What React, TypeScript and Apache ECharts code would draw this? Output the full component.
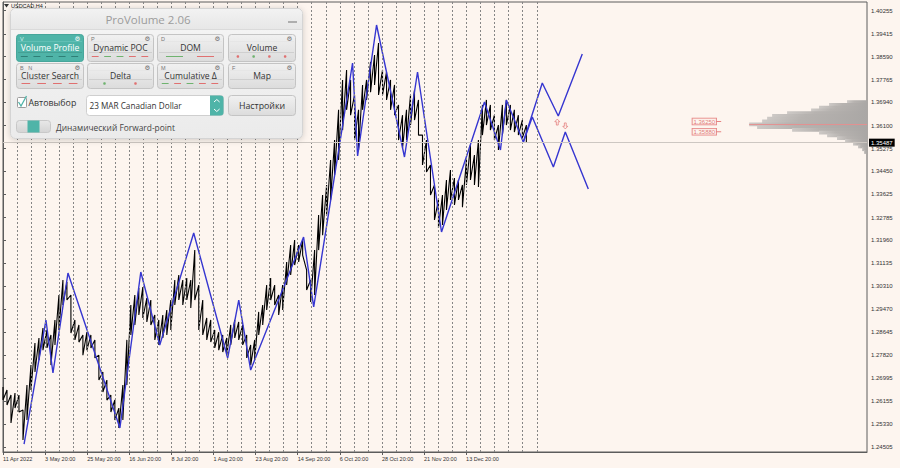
import React, { useEffect, useRef } from "react";
import * as echarts from "echarts";

// ---------- DATA ----------
const xLabelTexts = [
  "11 Apr 2022", "3 May 20:00", "25 May 20:00", "16 Jun 20:00", "8 Jul 20:00", "1 Aug 20:00",
  "23 Aug 20:00", "14 Sep 20:00", "6 Oct 20:00", "28 Oct 20:00", "21 Nov 20:00", "13 Dec 20:00",
];
const xLabelWeeks = [0, 3, 6, 9, 12, 15, 18, 21, 24, 27, 30, 33];
const yTickPrices = [
  1.40255, 1.39415, 1.3859, 1.37765, 1.3694, 1.361, 1.35275, 1.3445, 1.33625, 1.32785,
  1.3196, 1.31135, 1.3031, 1.2947, 1.28645, 1.2782, 1.26995, 1.26155, 1.2533, 1.24505,
];
const separatorWeeks = [
  1, 2, 3, 4, 5, 6, 7, 8, 9, 10, 11, 12, 13, 14, 15, 16, 17, 18, 19, 20, 21, 22, 23, 24, 25,
  26, 27, 28, 29, 30, 31, 32, 33, 34, 35, 36, 37, 38.1,
];
const barStepWeeks = 0.2847; // time between sampled price bars (in weeks)
const priceHigh = [
  1.2667, 1.2656, 1.2638, 1.2645, 1.2638, 1.2584, 1.2674, 1.2746, 1.2826, 1.2844,
  1.288, 1.2873, 1.2855, 1.2909, 1.2999, 1.3053, 1.3046, 1.2999, 1.2909, 1.2891,
  1.2855, 1.2865, 1.2855, 1.2837, 1.2782, 1.2721, 1.2692, 1.2638, 1.262, 1.2591,
  1.2674, 1.2837, 1.2963, 1.2999, 1.3024, 1.3028, 1.2988, 1.2981, 1.2927, 1.2909,
  1.2927, 1.2945, 1.2981, 1.3053, 1.3071, 1.3053, 1.306, 1.3053, 1.3161, 1.3035,
  1.2981, 1.2916, 1.2909, 1.2873, 1.2865, 1.2855, 1.2844, 1.2891, 1.2909, 1.2902,
  1.2891, 1.2855, 1.2819, 1.2837, 1.2938, 1.2963, 1.3035, 1.306, 1.3035, 1.2999,
  1.3035, 1.3118, 1.3179, 1.3197, 1.3179, 1.3197, 1.3089, 1.3053, 1.3161, 1.3288,
  1.336, 1.3396, 1.3486, 1.3558, 1.3667, 1.3775, 1.3811, 1.3775, 1.3721, 1.3667,
  1.3757, 1.3775, 1.384, 1.3865, 1.3908, 1.3811, 1.3804, 1.3775, 1.3757, 1.3685,
  1.3648, 1.3667, 1.3721, 1.3739, 1.3703, 1.3576, 1.3558, 1.3468, 1.3396, 1.3342,
  1.336, 1.3414, 1.345, 1.3421, 1.3414, 1.3396, 1.3486, 1.354, 1.3504, 1.3558,
  1.3685, 1.3703, 1.3685, 1.3648, 1.3612, 1.3685, 1.3703, 1.3685, 1.3667, 1.3648,
  1.363, 1.3612,
];
const priceLow = [
  1.262, 1.2602, 1.2537, 1.2591, 1.2577, 1.2476, 1.2548, 1.2656, 1.2721, 1.2764,
  1.28, 1.2808, 1.2746, 1.2819, 1.2873, 1.2963, 1.2981, 1.2862, 1.2837, 1.2829,
  1.2782, 1.28, 1.2808, 1.2772, 1.2692, 1.2649, 1.262, 1.2577, 1.2548, 1.2519,
  1.2548, 1.2674, 1.2855, 1.2891, 1.2927, 1.2916, 1.2902, 1.2891, 1.2837, 1.2819,
  1.2844, 1.2855, 1.2873, 1.2963, 1.2981, 1.2963, 1.2981, 1.2952, 1.2981, 1.2873,
  1.2855, 1.2837, 1.2829, 1.2808, 1.28, 1.2793, 1.2782, 1.2819, 1.2844, 1.2837,
  1.2819, 1.2772, 1.2746, 1.2764, 1.2855, 1.2891, 1.2945, 1.2981, 1.2963, 1.2927,
  1.2945, 1.3035, 1.3071, 1.3107, 1.3118, 1.3143, 1.3017, 1.2974, 1.2999, 1.3161,
  1.3215, 1.3288, 1.3342, 1.3432, 1.3486, 1.3594, 1.3667, 1.3648, 1.3558, 1.3522,
  1.3667, 1.3703, 1.3731, 1.3757, 1.3721, 1.3721, 1.3703, 1.3667, 1.3648, 1.3558,
  1.3529, 1.3558, 1.3612, 1.363, 1.3576, 1.3468, 1.3443, 1.336, 1.327, 1.3241,
  1.3252, 1.3306, 1.3342, 1.3324, 1.3342, 1.3316, 1.3396, 1.3414, 1.3396, 1.3389,
  1.3576, 1.3612, 1.3594, 1.3558, 1.3522, 1.3576, 1.3612, 1.3594, 1.3587, 1.3576,
  1.3565, 1.3551,
];
const zigzagWeeks = [
  1.5, 3.06, 3.56, 4.63, 8.33, 9.82, 11.17, 13.59, 16.01, 16.8, 17.65, 21.42, 22.14, 24.91,
  25.27, 26.62, 28.61, 29.54, 31.25, 34.31, 35.45, 35.87, 37.08,
];
const zigzagPrices = [
  1.24613, 1.29087, 1.27175, 1.30783, 1.25191, 1.30819, 1.28185, 1.32227, 1.27716, 1.29809,
  1.27283, 1.32082, 1.29557, 1.38361, 1.35005, 1.39732, 1.34969, 1.38036, 1.32263, 1.36954,
  1.35222, 1.37026, 1.3551,
];
const projUpWeeks = [37.08, 38.43, 39.57, 41.28];
const projUpPrices = [1.3551, 1.37639, 1.36448, 1.38686];
const projDownWeeks = [37.08, 37.72, 39.22, 40.07, 41.71];
const projDownPrices = [1.3551, 1.36412, 1.34608, 1.35871, 1.33814];
const signalWeeks = [39.5, 40.07];
const signalPrices = [1.3623, 1.3609];
const levelPrices = [1.3625, 1.3588];
const levelWeek = 51.0;
const bidPrice = 1.35487;
const profilePrices = [
  1.3695, 1.3685, 1.3675, 1.3665, 1.3655, 1.3645, 1.3635, 1.3625, 1.3615, 1.3605,
  1.3595, 1.3585, 1.3575, 1.3565, 1.3555, 1.3545, 1.3535, 1.3525, 1.3515,
];
const profileVolumes = [
  231, 439, 555, 647, 925, 1098, 1156, 1214, 1364, 1272, 867, 555, 462, 347, 254, 162, 104, 58, 35,
];
const profileBin = 0.001;
const pocPrice = 1.3614;

// ---------- STYLE ----------
const BG = "#fdf5ef";
const AXIS_FONT = '"Liberation Sans", Arial, sans-serif';
const UI_FONT = '"Open Sans", "Noto Sans", sans-serif';
const TEAL = "#4fb4a8";
const BLUE = "#3636d0";
const RED = "#e06767";

function grad(a: string, b: string) {
  return new echarts.graphic.LinearGradient(0, 0, 0, 1, [
    { offset: 0, color: a },
    { offset: 1, color: b },
  ]);
}

type Btn = {
  x: number; y: number; w: number; h: number; label: string; key: string; active?: boolean;
  ind: { kind: "dash" | "dot"; colors: string[] };
};

function buildButton(b: Btn): any[] {
  const els: any[] = [];
  els.push({
    type: "rect", z: 100,
    shape: { x: b.x + 0.5, y: b.y + 0.5, width: b.w, height: b.h, r: 3 },
    style: {
      fill: b.active ? TEAL : grad("#f1f1f1", "#dcdcdc"),
      stroke: b.active ? "#47a69b" : "#c4c4c4", lineWidth: 1,
    },
  });
  els.push({
    type: "line", z: 101,
    shape: { x1: b.x + 2, y1: b.y + 7.5, x2: b.x + b.w - 1, y2: b.y + 7.5 },
    style: { stroke: b.active ? "#62c0b5" : "#e6e6e6", lineWidth: 1 },
  });
  els.push({
    type: "line", z: 101,
    shape: { x1: b.x + 2, y1: b.y + b.h - 8.5, x2: b.x + b.w - 1, y2: b.y + b.h - 8.5 },
    style: { stroke: b.active ? "#45a195" : "#cfcfcf", lineWidth: 1 },
  });
  if (b.key) {
    els.push({
      type: "text", z: 102, x: b.x + 4, y: b.y + 4.5,
      style: { text: b.key, fill: b.active ? "#d9f0ed" : "#777", fontSize: 5.5, fontFamily: AXIS_FONT, verticalAlign: "middle" },
    });
  }
  els.push({
    type: "text", z: 102, x: b.x + b.w - 5.5, y: b.y + 4.5,
    style: { text: "⚙", fill: b.active ? "#ffffff" : "#6a6a6a", fontSize: 6.5, align: "center", verticalAlign: "middle", fontFamily: '"DejaVu Sans"' },
  });
  els.push({
    type: "text", z: 102, x: b.x + b.w / 2 + 0.5, y: b.y + (b.h > 26 ? 14 : 13),
    style: {
      text: b.label, fill: b.active ? "#ffffff" : "#333333", fontSize: 8.6,
      fontFamily: UI_FONT, align: "center", verticalAlign: "middle",
    },
  });
  const n = b.ind.colors.length;
  const iy = b.y + b.h - 4.5;
  const seg = (b.w - 4) / Math.max(n, 1);
  b.ind.colors.forEach((c, i) => {
    const cx = b.x + 2 + seg * (i + 0.5);
    if (b.ind.kind === "dash") {
      const L = seg * 0.55;
      els.push({
        type: "line", z: 102,
        shape: { x1: cx - L / 2, y1: iy, x2: cx + L / 2, y2: iy },
        style: { stroke: c, lineWidth: 1 },
      });
    } else {
      els.push({ type: "circle", z: 102, shape: { cx, cy: iy, r: 1.3 }, style: { fill: c } });
    }
  });
  return els;
}

function buildGraphic(): any[] {
  const els: any[] = [];
  els.push({
    type: "polygon", z: 100,
    shape: { points: [[4, 4], [9, 4], [6.5, 7.5]] }, style: { fill: "#333" },
  });
  els.push({
    type: "text", z: 100, x: 11, y: 6,
    style: { text: "USDCAD,H4", fill: "#222", fontSize: 5.5, fontFamily: AXIS_FONT, verticalAlign: "middle" },
  });
  els.push({
    type: "rect", z: 99,
    shape: { x: 10.5, y: 8.5, width: 292, height: 130, r: 5 },
    style: {
      fill: grad("#f5f5f5", "#ebebeb"), stroke: "#d4d4d4", lineWidth: 1,
      shadowBlur: 6, shadowColor: "rgba(0,0,0,0.18)", shadowOffsetY: 1,
    },
  });
  els.push({
    type: "rect", z: 99,
    shape: { x: 11, y: 9, width: 291, height: 20, r: [5, 5, 0, 0] },
    style: { fill: grad("#f2f2f2", "#e7e7e7") },
  });
  els.push({
    type: "line", z: 100, shape: { x1: 11, y1: 29.5, x2: 302, y2: 29.5 },
    style: { stroke: "#dadada", lineWidth: 1 },
  });
  els.push({
    type: "text", z: 100, x: 148, y: 19,
    style: { text: "ProVolume 2.06", fill: "#9c9c9c", fontSize: 11.5, fontFamily: UI_FONT, align: "center", verticalAlign: "middle" },
  });
  els.push({
    type: "line", z: 100, shape: { x1: 288, y1: 22, x2: 297, y2: 22 },
    style: { stroke: "#9a9a9a", lineWidth: 1.5 },
  });
  const G = "#6fb36f";
  const R = "#e07070";
  const buttons: Btn[] = [
    { x: 16, y: 34, w: 67, h: 27, label: "Volume Profile", key: "V", active: true, ind: { kind: "dash", colors: ["#2f7f76", "#2f7f76", "#2f7f76", "#2f7f76", "#2f7f76"] } },
    { x: 87, y: 34, w: 66, h: 27, label: "Dynamic POC", key: "P", ind: { kind: "dash", colors: [R, G, G, R, R] } },
    { x: 157, y: 34, w: 66, h: 27, label: "DOM", key: "D", ind: { kind: "dash", colors: [G, R] } },
    { x: 228, y: 34, w: 67, h: 27, label: "Volume", key: "", ind: { kind: "dot", colors: [R, G, R, R] } },
    { x: 16, y: 63, w: 67, h: 25, label: "Cluster Search", key: "B   N", ind: { kind: "dash", colors: [R, R, R, R] } },
    { x: 87, y: 63, w: 66, h: 25, label: "Delta", key: "", ind: { kind: "dot", colors: [G, R] } },
    { x: 157, y: 63, w: 66, h: 25, label: "Cumulative Δ", key: "M", ind: { kind: "dash", colors: [G, R, G, R, R] } },
    { x: 228, y: 63, w: 67, h: 25, label: "Map", key: "F", ind: { kind: "dash", colors: [] } },
  ];
  buttons.forEach((b) => els.push(...buildButton(b)));
  els.push({
    type: "rect", z: 100, shape: { x: 17.5, y: 97.5, width: 9, height: 10, r: 1 },
    style: { fill: "#ffffff", stroke: "#9c9c9c", lineWidth: 1 },
  });
  els.push({
    type: "polyline", z: 101, shape: { points: [[18.5, 102], [21, 106], [26.5, 96]] },
    style: { stroke: TEAL, lineWidth: 1.3, fill: "none" },
  });
  els.push({
    type: "text", z: 100, x: 28.5, y: 103,
    style: { text: "Автовыбор", fill: "#333", fontSize: 8.8, fontFamily: UI_FONT, verticalAlign: "middle" },
  });
  els.push({
    type: "rect", z: 100, shape: { x: 86.5, y: 95.5, width: 137, height: 20, r: 3 },
    style: { fill: "#ffffff", stroke: "#cfcfcf", lineWidth: 1 },
  });
  els.push({
    type: "text", z: 101, x: 89.5, y: 105.5,
    style: { text: "23 MAR Canadian Dollar", fill: "#333", fontSize: 8.2, fontFamily: UI_FONT, verticalAlign: "middle" },
  });
  els.push({
    type: "rect", z: 101, shape: { x: 210, y: 95.5, width: 13.5, height: 20, r: [0, 3, 3, 0] },
    style: { fill: TEAL },
  });
  els.push({
    type: "polyline", z: 102, shape: { points: [[214, 102], [216.8, 99.5], [219.6, 102]] },
    style: { stroke: "#fff", lineWidth: 1, fill: "none" },
  });
  els.push({
    type: "polyline", z: 102, shape: { points: [[214, 109], [216.8, 111.5], [219.6, 109]] },
    style: { stroke: "#fff", lineWidth: 1, fill: "none" },
  });
  els.push({
    type: "rect", z: 100, shape: { x: 228.5, y: 95.5, width: 67, height: 20, r: 3 },
    style: { fill: grad("#f1f1f1", "#dcdcdc"), stroke: "#c4c4c4", lineWidth: 1 },
  });
  els.push({
    type: "text", z: 101, x: 262, y: 105.5,
    style: { text: "Настройки", fill: "#333", fontSize: 8.8, fontFamily: UI_FONT, align: "center", verticalAlign: "middle" },
  });
  els.push({
    type: "rect", z: 100, shape: { x: 16.5, y: 120.5, width: 34, height: 12, r: 3 },
    style: { fill: grad("#e8e8e8", "#d4d4d4"), stroke: "#c8c8c8", lineWidth: 1 },
  });
  els.push({
    type: "rect", z: 101, shape: { x: 27.5, y: 120.5, width: 12, height: 12 },
    style: { fill: TEAL },
  });
  els.push({
    type: "text", z: 100, x: 56, y: 127,
    style: { text: "Динамический Forward-point", fill: "#444", fontSize: 8.4, fontFamily: UI_FONT, verticalAlign: "middle" },
  });
  return els;
}

export default function App() {
  const ref = useRef<HTMLDivElement>(null);
  useEffect(() => {
    document.body.style.margin = "0";
    if (!ref.current) return;
    const chart = echarts.init(ref.current, undefined, { renderer: "svg" });

    const priceLine: [number, number][] = [];
    priceHigh.forEach((h, i) => {
      const w = i * barStepWeeks;
      priceLine.push([w, h], [w, priceLow[i]]);
    });
    const maxVol = Math.max(...profileVolumes);

    const option: any = {
      animation: false,
      backgroundColor: BG,
      grid: {
        left: 2, right: 33, top: 2, bottom: 16, show: true,
        borderColor: "#5c5c5c", borderWidth: 1, backgroundColor: "transparent",
      },
      xAxis: [
        {
          type: "value", min: 0, max: 61.57, position: "bottom",
          axisLine: { show: true, lineStyle: { color: "#5c5c5c", width: 1 } },
          axisTick: { show: true, customValues: xLabelWeeks, length: 3, lineStyle: { color: "#5c5c5c" } },
          axisLabel: {
            show: true, customValues: xLabelWeeks, align: "left", margin: 4,
            fontSize: 5.5, color: "#333", fontFamily: AXIS_FONT,
            formatter: (v: number) => {
              const k = xLabelWeeks.indexOf(Math.round(v));
              return k >= 0 ? xLabelTexts[k] : "";
            },
          },
          splitLine: { show: false },
        },
        { type: "value", min: 0, max: 10000, inverse: true, position: "top", show: false },
      ],
      yAxis: {
        type: "value", position: "right", min: 1.24325, max: 1.40562,
        axisLine: { show: true, lineStyle: { color: "#5c5c5c", width: 1 } },
        axisTick: { show: true, customValues: yTickPrices, length: 3, lineStyle: { color: "#5c5c5c" } },
        axisLabel: {
          show: true, customValues: yTickPrices, margin: 4, fontSize: 6, color: "#333",
          fontFamily: AXIS_FONT, formatter: (v: number) => v.toFixed(5),
        },
        splitLine: { show: false },
      },
      series: [
        {
          type: "line", name: "separators", data: [], z: 1, silent: true,
          markLine: {
            silent: true, symbol: ["none", "none"], label: { show: false }, precision: 5,
            emphasis: { disabled: true },
            lineStyle: { color: "#858585", width: 1, type: [2, 2] },
            data: separatorWeeks.map((w) => ({ xAxis: w })),
          },
        },
        {
          type: "custom", name: "profile", xAxisIndex: 1, yAxisIndex: 0, z: 2, silent: true,
          data: profilePrices.map((p, i) => [p, profileVolumes[i]]),
          encode: { x: 1, y: 0 },
          renderItem: (_params: any, api: any) => {
            const c = api.value(0);
            const v = api.value(1);
            const tr = api.coord([0, c + profileBin / 2]);
            const bl = api.coord([v, c - profileBin / 2]);
            const children: any[] = [
              {
                type: "rect",
                shape: { x: bl[0], y: tr[1] - 0.5, width: tr[0] - bl[0], height: bl[1] - tr[1] + 1 },
                style: {
                  fill: new echarts.graphic.LinearGradient(0, 0, 1, 0, [
                    { offset: 0, color: "#cdc9c6" },
                    { offset: 0.35, color: "#b7b3b0" },
                    { offset: 1, color: "#aaa7a5" },
                  ]),
                },
              },
            ];
            if (v === maxVol) {
              const a = api.coord([v, pocPrice]);
              const b = api.coord([0, pocPrice]);
              children.push({
                type: "line", z2: 10,
                shape: { x1: a[0], y1: a[1], x2: b[0], y2: b[1] },
                style: { stroke: "#e49090", lineWidth: 1 },
              });
            }
            return { type: "group", children };
          },
        },
        {
          type: "line", name: "USDCAD", data: priceLine, symbol: "none", z: 3,
          lineStyle: { color: "#000", width: 1.1 },
          markLine: {
            silent: true, symbol: ["none", "none"], precision: 5,
            lineStyle: { color: "#cdc7c2", width: 1, type: "solid" },
            label: {
              show: true, position: "end", formatter: "1.35487", color: "#fff",
              backgroundColor: "#000", fontSize: 6, padding: [1, 2, 1, 2], distance: 2,
              fontFamily: AXIS_FONT,
            },
            data: [{ yAxis: bidPrice }],
          },
        },
        {
          type: "line", name: "zigzag", z: 4, symbol: "none",
          data: zigzagWeeks.map((w, i) => [w, zigzagPrices[i]]),
          lineStyle: { color: BLUE, width: 1.4 },
        },
        {
          type: "line", name: "projUp", z: 4, symbol: "none",
          data: projUpWeeks.map((w, i) => [w, projUpPrices[i]]),
          lineStyle: { color: BLUE, width: 1.4 },
        },
        {
          type: "line", name: "projDown", z: 4, symbol: "none",
          data: projDownWeeks.map((w, i) => [w, projDownPrices[i]]),
          lineStyle: { color: BLUE, width: 1.4 },
        },
        {
          type: "scatter", name: "signals", z: 5, silent: true,
          symbol: "path://M4,0L8,4L5.5,4L5.5,9L2.5,9L2.5,4L0,4Z",
          symbolSize: [5, 6],
          itemStyle: { color: "transparent", borderColor: RED, borderWidth: 0.8 },
          data: signalWeeks.map((w, i) => ({ value: [w, signalPrices[i]], symbolRotate: i === 0 ? 0 : 180 })),
        },
        {
          type: "scatter", name: "levels", z: 5, silent: true,
          symbol: "rect", symbolSize: [5, 1], itemStyle: { color: RED },
          data: levelPrices.map((p) => [levelWeek, p]),
          label: {
            show: true, position: "left", distance: 0,
            formatter: (p: any) => p.value[1].toFixed(5),
            fontSize: 6, color: "#d85a5a", fontFamily: AXIS_FONT,
            borderColor: RED, borderWidth: 0.8, padding: [0, 1, 0, 1], backgroundColor: BG,
          },
        },
      ],
      graphic: { elements: buildGraphic() },
    };
    chart.setOption(option);
    return () => chart.dispose();
  }, []);
  return (
    <div
      ref={ref}
      style={{ position: "fixed", left: 0, top: 0, width: 900, height: 468, background: BG }}
    />
  );
}
